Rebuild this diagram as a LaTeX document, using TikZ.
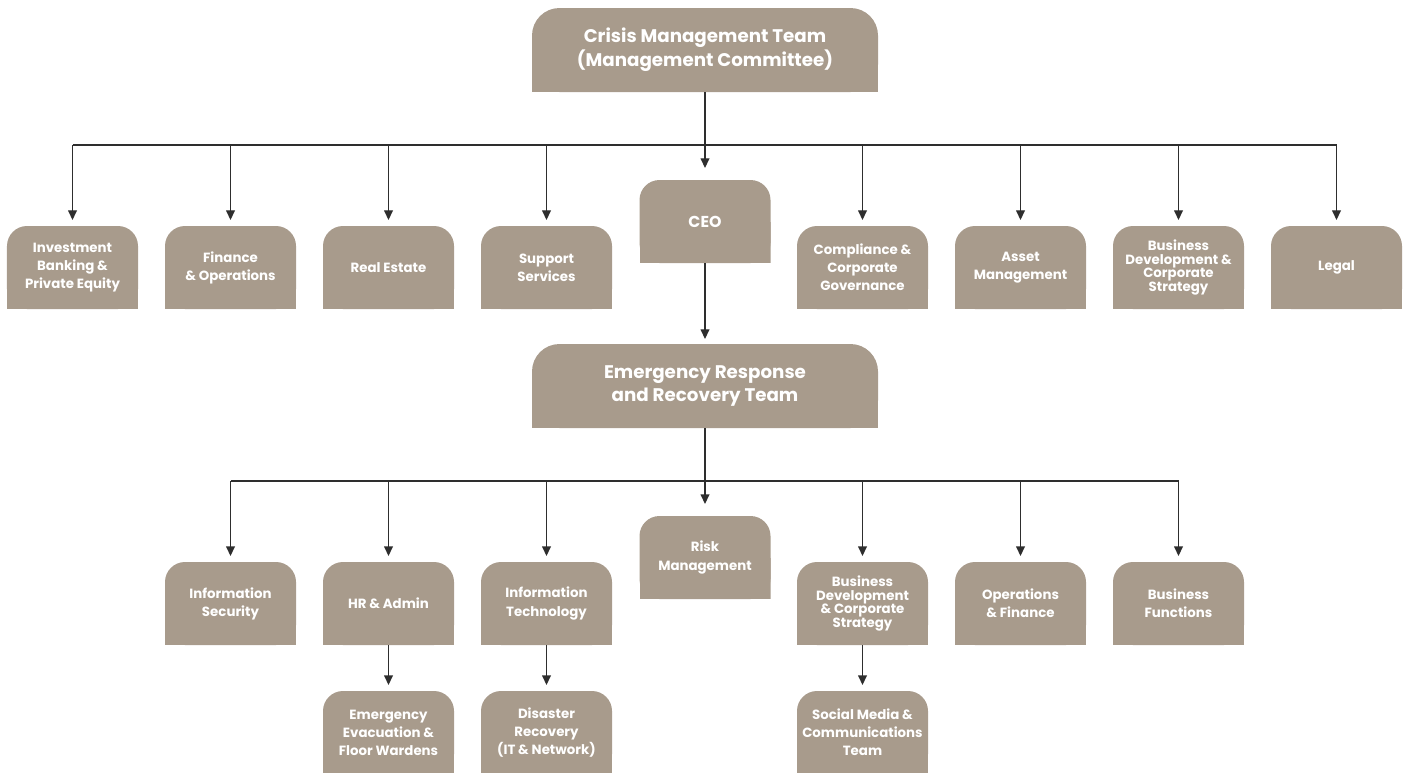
\documentclass[tikz,border=0pt]{standalone}
\usepackage{fontspec}
\setmainfont{Poppins}
\usetikzlibrary{positioning,arrows.meta}
\definecolor{boxc}{HTML}{A89B8C}
\definecolor{linec}{HTML}{2E2E2E}
\begin{document}
\begin{tikzpicture}
  \tikzstyle{orgbox} = [minimum width=2.62cm, minimum height=1.66cm, inner sep=0pt, outer sep=0pt, text=white, align=center,
    font=\fontsize{7.6}{10.3}\selectfont\bfseries,
    path picture={\fill[boxc, rounded corners=0.4cm] (path picture bounding box.south west) rectangle (path picture bounding box.north east);
      \fill[boxc] (path picture bounding box.south west) rectangle (path picture bounding box.east);}]
  \tikzstyle{bigbox} = [orgbox, minimum width=6.92cm, minimum height=1.68cm, font=\fontsize{10.4}{13.6}\selectfont\bfseries,
    path picture={\fill[boxc, rounded corners=0.55cm] (path picture bounding box.south west) rectangle (path picture bounding box.north east);
      \fill[boxc] (path picture bounding box.south west) rectangle (path picture bounding box.east);}]
  \tikzstyle{tight} = [font=\fontsize{7.6}{7.8}\selectfont\bfseries]
  \tikzstyle{arr} = [draw=linec, line width=0.75pt, -{Triangle[length=5.5pt,width=5pt]}]
  \useasboundingbox (0,0) rectangle (28.14,-15.44);
  % top
  \node[bigbox] (cmt) at (14.10,-1.00) {Crisis Management Team\\(Management Committee)};
  \node[orgbox, font=\fontsize{9}{11}\selectfont\bfseries] (ceo) at (14.10,-4.43) {CEO};
  % first row
  \node[orgbox] (d1) at (1.45,-5.35) {Investment\\Banking \&\\Private Equity};
  \node[orgbox, right=0.54cm of d1] (d2) {Finance\\\& Operations};
  \node[orgbox, right=0.54cm of d2] (d3) {Real Estate};
  \node[orgbox, right=0.54cm of d3] (d4) {Support\\Services};
  \node[orgbox, right=3.7cm of d4] (d6) {Compliance \&\\Corporate\\Governance};
  \node[orgbox, right=0.54cm of d6] (d7) {Asset\\Management};
  \node[orgbox, tight, right=0.54cm of d7] (d8) {Business\\Development \&\\Corporate\\Strategy};
  \node[orgbox, right=0.54cm of d8] (d9) {Legal};
  \coordinate (busa) at (0,-2.90);
  \draw[draw=linec, line width=0.75pt] (d1.north |- busa) -- (d9.north |- busa);
  \draw[arr, shorten >=0.24cm] (cmt) -- (ceo);
  \foreach \i in {1,2,3,4,6,7,8,9}
  {
    \draw[arr, shorten >=0.12cm] (d\i.north |- busa) -- (d\i.north);
  }
  % second part
  \node[bigbox] (errt) at (14.10,-7.72) {Emergency Response\\and Recovery Team};
  \draw[arr, shorten >=0.1cm] (ceo) -- (errt);
  \node[orgbox] (t1) at (4.61,-12.07) {Information\\Security};
  \node[orgbox, right=0.54cm of t1] (t2) {HR \& Admin};
  \node[orgbox, right=0.54cm of t2] (t3) {Information\\Technology};
  \node[orgbox] (t4) at (14.10,-11.15) {Risk\\Management};
  \node[orgbox, tight, right=3.7cm of t3] (t5) {Business\\Development\\\& Corporate\\Strategy};
  \node[orgbox, right=0.54cm of t5] (t6) {Operations\\\& Finance};
  \node[orgbox, right=0.54cm of t6] (t7) {Business\\Functions};
  \coordinate (busb) at (0,-9.62);
  \draw[draw=linec, line width=0.75pt] (t1.north |- busb) -- (t7.north |- busb);
  \draw[arr, shorten >=0.24cm] (errt) -- (t4);
  \foreach \i in {1,2,3,5,6,7}
  {
    \draw[arr, shorten >=0.12cm] (t\i.north |- busb) -- (t\i.north);
  }
  % third row
  \node[orgbox, below=0.92cm of t2] (s2) {Emergency\\Evacuation \&\\Floor Wardens};
  \node[orgbox, below=0.92cm of t3] (s3) {Disaster\\Recovery\\(IT \& Network)};
  \node[orgbox, below=0.92cm of t5] (s5) {Social Media \&\\Communications\\Team};
  \foreach \i in {2,3,5}
  {
    \draw[arr, shorten >=0.12cm] (t\i) -- (s\i);
  }
\end{tikzpicture}
\end{document}
